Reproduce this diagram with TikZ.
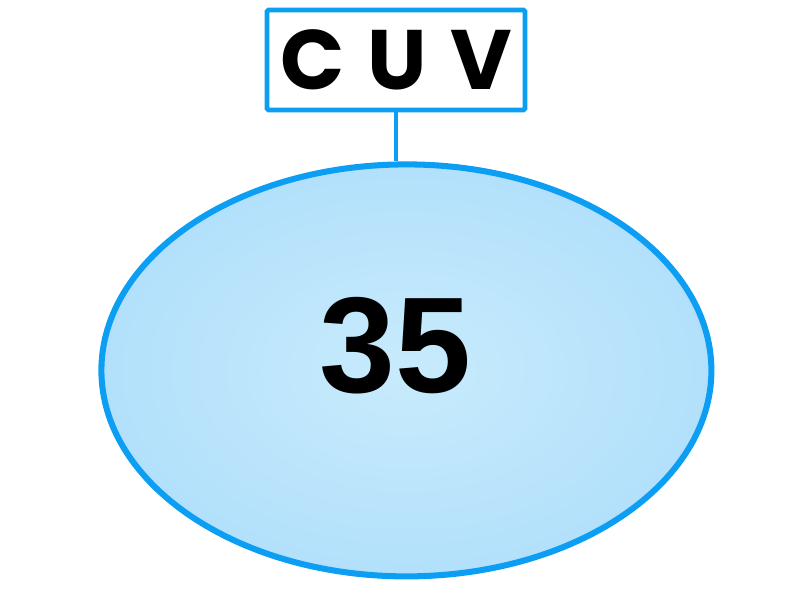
\documentclass[tikz,border=0pt]{standalone}
\usepackage{fontspec}
\setmainfont{Liberation Sans}
\newfontfamily\tagfont{Poppins}[WordSpace=1.3]
\usepackage{tikz}
\usetikzlibrary{shapes.geometric, positioning}
\definecolor{colorEdge}{RGB}{12,158,242}
\definecolor{colorInner}{RGB}{200,235,252}
\definecolor{colorOuter}{RGB}{178,224,251}
\tikzset{
  tagbox/.style={draw=colorEdge, line width=3.3pt, fill=white, rounded corners=1pt,
    minimum width=6.45cm, minimum height=2.5cm, inner sep=0pt,
    font=\tagfont\bfseries\fontsize{60}{70}\selectfont},
  blob/.style={ellipse, draw=colorEdge, line width=4.3pt, inner sep=0pt,
    minimum width=15.25cm, minimum height=10.3cm,
    inner color=colorInner, outer color=colorOuter},
  numtext/.style={font=\bfseries\fontsize{97}{100}\selectfont, inner sep=0pt}
}

\begin{document}
\begin{tikzpicture}
\useasboundingbox (0,0) rectangle (20,15);
\node[blob] (blob) at (10.16,5.74) {};
\node[numtext] (num) at ([xshift=-0.28cm, yshift=0.62cm]blob.center) {35};
\node[tagbox] (tag) at (9.9,13.5) {C U V};
\draw[colorEdge, line width=3.3pt] (tag.south) -- (tag.south |- blob.north);
\end{tikzpicture}
\end{document}
